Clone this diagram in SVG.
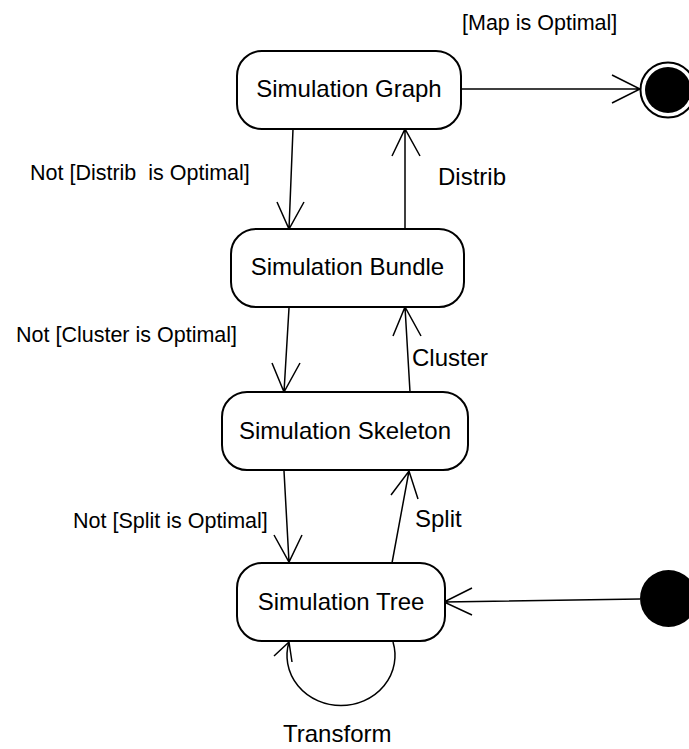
<svg xmlns="http://www.w3.org/2000/svg" width="689" height="749" viewBox="0 0 689 749">
<style>
.node{fill:#fff;stroke:#000;stroke-width:2}
.nt{font-family:"Liberation Sans",Arial,sans-serif;font-size:24px;fill:#000;text-anchor:middle}
.lbl{font-family:"Liberation Sans",Arial,sans-serif;font-size:24px;fill:#000}
.grd{font-family:"Liberation Sans",Arial,sans-serif;font-size:21.5px;fill:#000}
.edge{fill:none;stroke:#000;stroke-width:1.5}
</style>
<rect width="689" height="749" fill="#fff"/>
<g id="connectors">
<path class="edge" d="M293,129 L289,229 M277,202 L289,229 L304,202"/>
<path class="edge" d="M405,229 L405,129 M392,156 L405,129 L420,156"/>
<path class="edge" d="M289,308 L284,392 M272,363 L284,392 L300,363"/>
<path class="edge" d="M410,392 L405,307 M393,336 L405,307 L421,336"/>
<path class="edge" d="M284,471 L289,562 M274,535 L289,562 L302,535"/>
<path class="edge" d="M392,563 L409,471 M391,495 L409,471 L418,499"/>
<path class="edge" d="M461,89 L640,89 M612,75 L640,89 L612,103"/>
<path class="edge" d="M640,599 L444,602 M472,588 L444,602 L472,615"/>
<path class="edge" d="M393,642 A54,50 0 1 1 289,642 M274,656 L289,642 L292,662"/>
</g>
<g id="simulation-graph"><rect class="node" x="237" y="51" width="224" height="78" rx="25"/><text class="nt" x="349" y="97">Simulation Graph</text></g>
<g id="simulation-bundle"><rect class="node" x="231" y="229" width="233" height="78" rx="25"/><text class="nt" x="347.5" y="275">Simulation Bundle</text></g>
<g id="simulation-skeleton"><rect class="node" x="222" y="392" width="246" height="78" rx="25"/><text class="nt" x="345" y="439">Simulation Skeleton</text></g>
<g id="simulation-tree"><rect class="node" x="237" y="563" width="208" height="78" rx="25"/><text class="nt" x="341" y="610">Simulation Tree</text></g>
<g id="final-state"><circle cx="668" cy="90" r="27.5" fill="#fff" stroke="#000" stroke-width="2"/><circle cx="668" cy="90" r="23" fill="#000"/></g>
<g id="initial-state"><circle cx="668.5" cy="598.5" r="28.5" fill="#000"/></g>
<g id="labels">
<text class="grd" x="462" y="30">[Map is Optimal]</text>
<text class="grd" x="30" y="180" xml:space="preserve">Not [Distrib  is Optimal]</text>
<text class="lbl" x="438" y="185">Distrib</text>
<text class="grd" x="16" y="342">Not [Cluster is Optimal]</text>
<text class="lbl" x="412" y="366">Cluster</text>
<text class="grd" x="73" y="528">Not [Split is Optimal]</text>
<text class="lbl" x="415" y="527">Split</text>
<text class="lbl" x="283" y="742">Transform</text>
</g>
</svg>
